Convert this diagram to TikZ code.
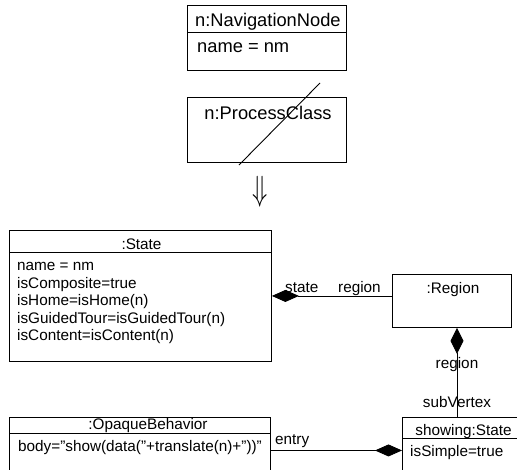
\documentclass[tikz,border=0pt]{standalone}
\usepackage{fontspec}
\setmainfont{Liberation Sans}
\usetikzlibrary{arrows.meta}
\begin{document}
\begin{tikzpicture}[x=1pt,y=-1pt,
  box/.style={draw, line width=0.9pt, inner sep=0pt, anchor=north west},
  divline/.style={line width=0.9pt},
  big/.style={font=\fontsize{18.3}{21}\selectfont, inner sep=0pt},
  small/.style={font=\fontsize{15.3}{17.5}\selectfont, inner sep=0pt},
  conn/.style={line width=0.9pt},
  compstart/.style={{Diamond[length=27pt,width=12pt]}-},
  compend/.style={-{Diamond[length=27pt,width=12pt]}}]
\useasboundingbox (0,0) rectangle (517,469);
\clip (0,0) rectangle (517,469);

% top: NavigationNode
\node[box, minimum width=159pt, minimum height=65pt] (nav) at (187,5) {};
\draw[divline] (187,32) -- (347,32);
\node[big, anchor=base west] (navt) at (195,26.7) {n:NavigationNode};
\node[big, anchor=base west] (nava) at (197,52.7) {name = nm};

% ProcessClass (struck out)
\node[box, minimum width=159pt, minimum height=65pt] (proc) at (187,97) {};
\node[big, anchor=base] (proct) at (268,119) {n:ProcessClass};
\draw[line width=0.9pt] (239,165) -- (320,83);

% transformation arrow
\node[inner sep=0pt] (arr) at (260,192) {\scalebox{2.5}[3.5]{$\Downarrow$}};

% :State
\node[box, minimum width=262pt, minimum height=131pt] (state) at (9,230) {};
\draw[divline] (9,252) -- (271,252);
\node[small, anchor=base] (statet) at (141.5,249) {:State};
\node[small, anchor=base west] (sa1) at (17,270.7) {name = nm};
\node[small, anchor=base west] (sa2) at (17,288.2) {isComposite=true};
\node[small, anchor=base west] (sa3) at (17,305.7) {isHome=isHome(n)};
\node[small, anchor=base west] (sa4) at (17,323.2) {isGuidedTour=isGuidedTour(n)};
\node[small, anchor=base west] (sa5) at (17,340.7) {isContent=isContent(n)};

% :Region
\node[box, minimum width=119pt, minimum height=53pt] (region) at (392,274) {};
\node[small, anchor=base] (regiont) at (453,293.3) {:Region};

% State -- Region
\draw[conn, compstart] (state.east) -- (state.east -| region.west);
\node[small, anchor=base west] (lstate) at (285,292.3) {state};
\node[small, anchor=base west] (lregion) at (338,292.3) {region};

% showing:State
\node[box, minimum width=123pt, minimum height=66pt] (showing) at (402,417) {};
\draw[divline] (402,438) -- (525,438);
\node[small, anchor=base] (showt) at (463.5,435) {showing:State};
\node[small, anchor=base west] (showa) at (410,456.7) {isSimple=true};

% Region -- showing
\coordinate (vx) at (457,0);
\draw[conn, {Diamond[length=26pt,width=13pt]}-] (vx |- region.south) -- (vx |- showing.north);
\node[small, anchor=base] (lregion2) at (457,368.3) {region};
\node[small, anchor=base] (lsub) at (457,407.3) {subVertex};

% :OpaqueBehavior
\node[box, minimum width=261pt, minimum height=66pt] (opaque) at (9,417) {};
\draw[divline] (9,433) -- (270,433);
\node[small, anchor=base] (opt) at (148,429.3) {:OpaqueBehavior};
\node[small, anchor=base west] (opa) at (18,451) {body="show(data("+translate(n)+"))"};

% OpaqueBehavior -- showing
\draw[conn, compend] (opaque.east) -- (showing.west);
\node[small, anchor=base west] (lentry) at (275,444) {entry};
\end{tikzpicture}
\end{document}
